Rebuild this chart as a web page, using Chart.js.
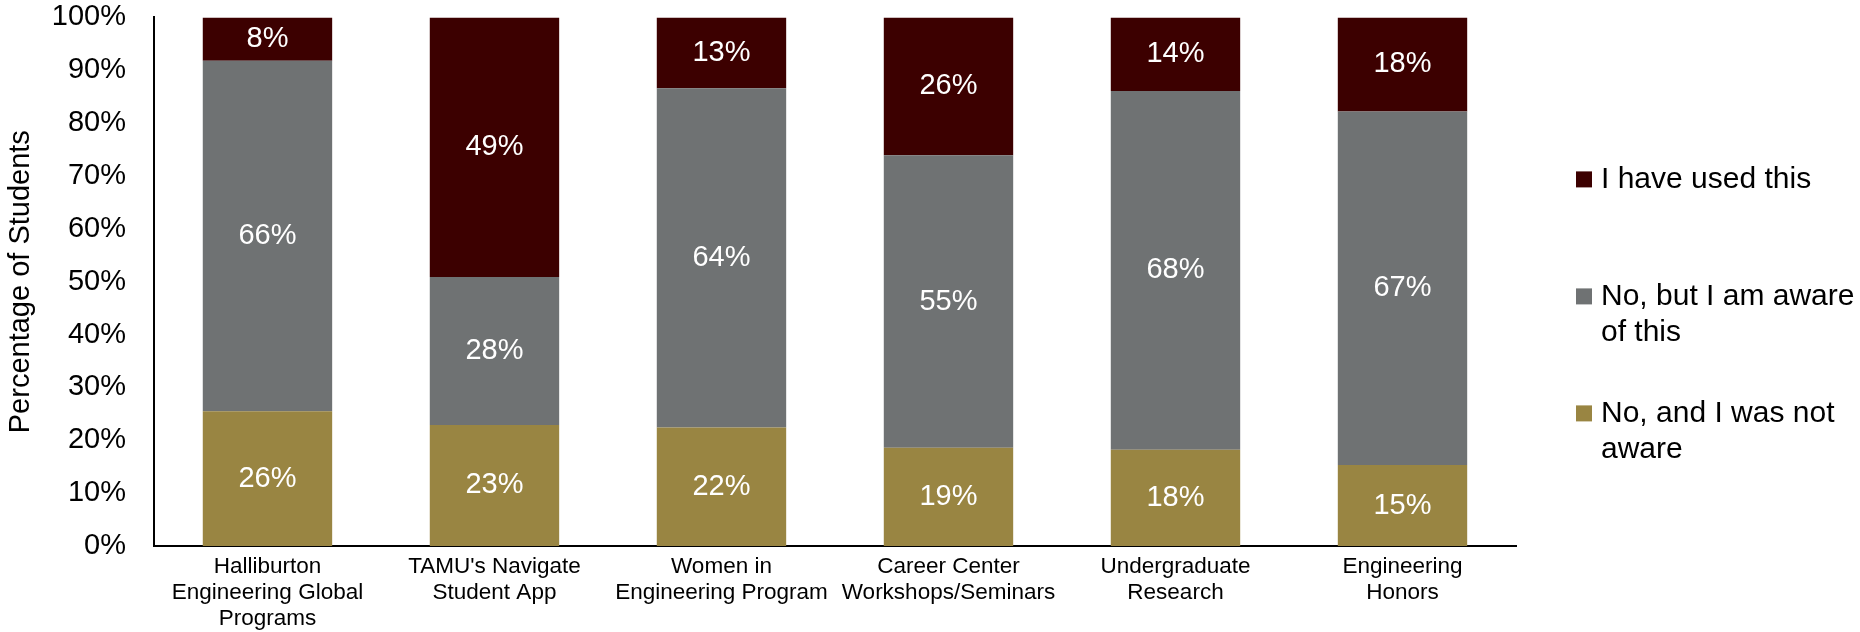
<!DOCTYPE html>
<html>
<head>
<meta charset="utf-8">
<script src="https://cdn.jsdelivr.net/npm/chart.js@4/dist/chart.umd.min.js"></script>
<style>
  html, body { margin: 0; padding: 0; background: #fff; }
  #wrap { width: 1860px; height: 632px; }
</style>
</head>
<body>
<div id="wrap"><canvas id="chart"></canvas></div>
<script>
// categories (multi-line x labels)
const programs = [
  ['Halliburton', 'Engineering Global', 'Programs'],
  ["TAMU's Navigate", 'Student App'],
  ['Women in', 'Engineering Program'],
  ['Career Center', 'Workshops/Seminars'],
  ['Undergraduate', 'Research'],
  ['Engineering', 'Honors']
];

// series values, % of students
const notAware = [25.5, 22.9, 22.4, 18.6, 18.2, 15.3];
const awareNotUsed = [66.3, 28.0, 64.2, 55.3, 67.9, 66.9];
const haveUsed = [8.2, 49.1, 13.4, 26.1, 13.9, 17.8];

const seriesNames = ['No, and I was not aware', 'No, but I am aware of this', 'I have used this'];
// wrapped legend text, top item first
const legendLines = [
  ['I have used this'],
  ['No, but I am aware', 'of this'],
  ['No, and I was not', 'aware']
];

const yTicks = [0, 10, 20, 30, 40, 50, 60, 70, 80, 90, 100];

const GOLD = '#998542';
const GREY = '#6f7273';
const MAROON = '#3c0000';
const FONT = "'Liberation Sans', Arial, sans-serif";

// white % labels in the middle of each segment
const segmentLabels = {
  id: 'segmentLabels',
  afterDatasetsDraw(chart) {
    const ctx = chart.ctx;
    ctx.save();
    ctx.font = '29px ' + FONT;
    ctx.fillStyle = '#ffffff';
    ctx.textAlign = 'center';
    ctx.textBaseline = 'middle';
    chart.data.datasets.forEach((ds, i) => {
      chart.getDatasetMeta(i).data.forEach((bar, j) => {
        const mid = (bar.y + bar.base) / 2;
        ctx.fillText(Math.round(ds.data[j]) + '%', bar.x, mid);
      });
    });
    ctx.restore();
  }
};

// legend on the right, with wrapped lines
const sideLegend = {
  id: 'sideLegend',
  afterDraw(chart) {
    const ctx = chart.ctx;
    const area = chart.chartArea;
    const colors = [MAROON, GREY, GOLD];
    const boxX = area.right + 60;
    ctx.save();
    ctx.font = '30px ' + FONT;
    ctx.textBaseline = 'middle';
    ctx.textAlign = 'left';
    legendLines.forEach((lines, i) => {
      const y = area.top + 162 + i * 117;
      ctx.fillStyle = colors[i];
      ctx.fillRect(boxX, y - 8, 16, 16);
      ctx.fillStyle = '#000';
      lines.forEach((t, k) => ctx.fillText(t, boxX + 25, y + k * 36));
    });
    ctx.restore();
  }
};

new Chart(document.getElementById('chart'), {
  type: 'bar',
  data: {
    labels: programs,
    datasets: [
      { label: seriesNames[0], data: notAware, backgroundColor: GOLD },
      { label: seriesNames[1], data: awareNotUsed, backgroundColor: GREY },
      { label: seriesNames[2], data: haveUsed, backgroundColor: MAROON }
    ]
  },
  options: {
    responsive: true,
    maintainAspectRatio: false,
    animation: false,
    layout: { padding: { left: 0, right: 344, top: 0, bottom: 0 } },
    datasets: {
      bar: { categoryPercentage: 1, barPercentage: 0.57 }
    },
    plugins: {
      legend: { display: false },
      tooltip: { enabled: false }
    },
    scales: {
      x: {
        stacked: true,
        // ticks are invisible, only the length spaces the labels off the axis
        grid: { display: false, drawTicks: true, tickLength: 8 },
        border: { display: true, color: '#000', width: 2 },
        ticks: {
          color: '#000',
          padding: 0,
          maxRotation: 0,
          autoSkip: false,
          font: { family: FONT, size: 22.5, lineHeight: 26 / 22.5 }
        }
      },
      y: {
        stacked: true,
        min: 0,
        max: 100,
        afterBuildTicks(scale) {
          scale.ticks = yTicks.map(v => ({ value: v }));
        },
        grid: { display: false, drawTicks: true, tickLength: 28 },
        border: { display: true, color: '#000', width: 2 },
        ticks: {
          color: '#000',
          padding: 0,
          font: { family: FONT, size: 29 },
          callback: v => v + '%'
        },
        title: {
          display: true,
          text: 'Percentage of Students',
          color: '#000',
          padding: { top: 4, bottom: 13 },
          font: { family: FONT, size: 29 }
        }
      }
    }
  },
  plugins: [segmentLabels, sideLegend]
});
</script>
</body>
</html>
